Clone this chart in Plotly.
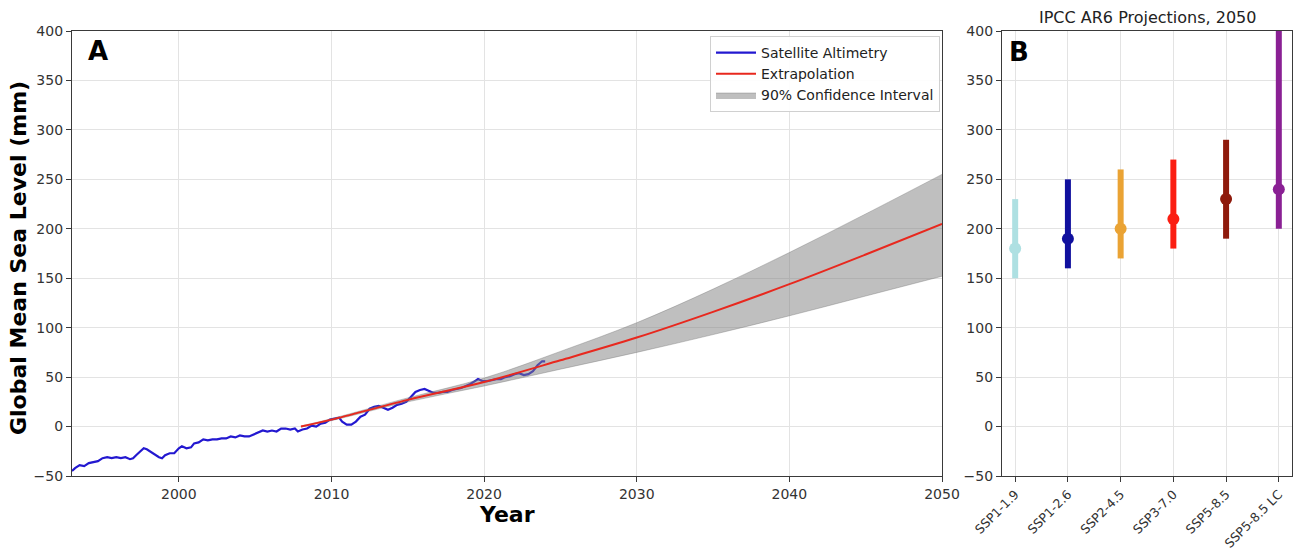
import plotly.graph_objects as go

# ---- Panel A: satellite altimetry record (mm) ----
sat_years = [
    1993.0, 1993.2, 1993.5, 1993.8, 1994.1, 1994.4, 1994.7, 1995.0, 1995.3, 1995.6,
    1995.9, 1996.2, 1996.5, 1996.8, 1997.0, 1997.2, 1997.5, 1997.7, 1997.9, 1998.1,
    1998.4, 1998.7, 1998.9, 1999.1, 1999.4, 1999.7, 2000.0, 2000.2, 2000.5, 2000.8,
    2001.0, 2001.3, 2001.6, 2001.9, 2002.2, 2002.5, 2002.8, 2003.1, 2003.4, 2003.7,
    2004.0, 2004.3, 2004.6, 2004.9, 2005.2, 2005.5, 2005.8, 2006.1, 2006.4, 2006.7,
    2007.0, 2007.3, 2007.6, 2007.8, 2008.1, 2008.4, 2008.7, 2009.0, 2009.3, 2009.6,
    2009.9, 2010.2, 2010.5, 2010.7, 2011.0, 2011.3, 2011.6, 2011.9, 2012.2, 2012.5,
    2012.8, 2013.1, 2013.4, 2013.7, 2014.0, 2014.3, 2014.6, 2014.9, 2015.2, 2015.5,
    2015.8, 2016.1, 2016.4, 2016.7, 2017.0, 2017.3, 2017.6, 2017.9, 2018.2, 2018.5,
    2018.8, 2019.1, 2019.4, 2019.6, 2019.9, 2020.2, 2020.5, 2020.8, 2021.1, 2021.4,
    2021.7, 2022.0, 2022.3, 2022.6, 2022.9, 2023.2, 2023.5, 2023.8, 2024.0,
]
sat_gmsl = [
    -45, -42, -39, -40, -37, -36, -35, -32, -31, -32,
    -31, -32, -31, -33, -32, -29, -25, -22, -23, -25,
    -28, -31, -32, -29, -27, -27, -22, -20, -22, -21,
    -17, -16, -13, -14, -13, -13, -12, -12, -10, -11,
    -9, -10, -10, -8, -6, -4, -5, -4, -5, -2,
    -2, -3, -2, -5, -3, -2, 1, 0, 3, 4,
    7, 8, 9, 5, 2, 2, 5, 10, 12, 18,
    20, 21, 19, 17, 19, 22, 23, 25, 30, 35,
    37, 38, 36, 34, 34, 35, 35, 37, 38, 39,
    41, 43, 46, 48, 46, 46, 47, 48, 48, 50,
    51, 53, 54, 52, 53, 56, 62, 66, 66,
]

# ---- Panel A: extrapolated trend and 90% confidence band (mm) ----
ext_years = [2008, 2010, 2015, 2020, 2025, 2030, 2035, 2040, 2045, 2050]
ext_mid = [0, 7, 27, 45, 67, 90, 116, 144, 174, 205]
ext_upper = [0.5, 8, 29, 49, 76, 105, 139, 176, 215, 255]
ext_lower = [-0.5, 6, 25, 41, 58, 75, 93, 112, 132, 152]

# ---- Panel B: IPCC AR6 projections for 2050 (mm) ----
scenarios = ["SSP1-1.9", "SSP1-2.6", "SSP2-4.5", "SSP3-7.0", "SSP5-8.5", "SSP5-8.5 LC"]
proj_median = [180, 190, 200, 210, 230, 240]
proj_low = [150, 160, 170, 180, 190, 200]
proj_high = [230, 250, 260, 270, 290, 500]
proj_colors = ["#aee0e2", "#10109e", "#eaa334", "#fb1e12", "#8e1a0c", "#8a2094"]

W, H = 1294, 553
FONT = "DejaVu Sans"
AX_COLOR = "#3a3a3a"
TICK_COLOR = "#333333"
GRID = "#e3e3e3"

# pixel geometry of the two panels
a_left, a_right = 72, 942
b_left, b_right = 1002, 1292
p_top, p_bottom = 31, 476

def px_x(p):
    return p / W

def px_y(p):
    return 1 - p / H

fig = go.Figure()

fig.add_trace(go.Scatter(
    x=sat_years, y=sat_gmsl, mode="lines", name="Satellite Altimetry",
    line=dict(color="#2318d0", width=2.2), legendrank=1,
    xaxis="x", yaxis="y",
))
fig.add_trace(go.Scatter(
    x=ext_years, y=ext_lower, mode="lines", showlegend=False,
    line=dict(color="rgba(110,110,110,0.6)", width=0.6, shape="spline"),
    hoverinfo="skip", xaxis="x", yaxis="y",
))
fig.add_trace(go.Scatter(
    x=ext_years, y=ext_upper, mode="lines", name="90% Confidence Interval",
    fill="tonexty", fillcolor="rgba(128,128,128,0.5)",
    line=dict(color="rgba(110,110,110,0.6)", width=0.6, shape="spline"),
    legendrank=3, xaxis="x", yaxis="y",
))
fig.add_trace(go.Scatter(
    x=ext_years, y=ext_mid, mode="lines", name="Extrapolation",
    line=dict(color="#e8281e", width=2, shape="spline"), legendrank=2,
    xaxis="x", yaxis="y",
))

for i, name in enumerate(scenarios):
    fig.add_trace(go.Scatter(
        x=[i], y=[proj_median[i]], mode="markers", showlegend=False, name=name,
        marker=dict(color=proj_colors[i], size=12),
        error_y=dict(
            type="data", symmetric=False,
            array=[proj_high[i] - proj_median[i]],
            arrayminus=[proj_median[i] - proj_low[i]],
            color=proj_colors[i], thickness=6, width=0,
        ),
        xaxis="x2", yaxis="y2",
    ))

axis_common = dict(
    showline=True, linecolor=AX_COLOR, linewidth=1.3, mirror=True,
    ticks="outside", ticklen=5, tickwidth=1.2, tickcolor=AX_COLOR,
    showgrid=True, gridcolor=GRID, gridwidth=1, zeroline=False,
    tickfont=dict(family=FONT, size=14, color=TICK_COLOR),
    automargin=False,
)

fig.update_layout(
    width=W, height=H,
    margin=dict(l=0, r=0, t=0, b=0, autoexpand=False),
    paper_bgcolor="white", plot_bgcolor="white",
    font=dict(family=FONT, color="#222"),
    xaxis=dict(
        domain=[px_x(a_left), px_x(a_right)], range=[1993, 2050],
        tickvals=[2000, 2010, 2020, 2030, 2040, 2050], anchor="y",
        **axis_common,
    ),
    yaxis=dict(
        domain=[px_y(p_bottom), px_y(p_top)], range=[-50, 400], dtick=50,
        anchor="x", **axis_common,
    ),
    xaxis2=dict(
        domain=[px_x(b_left), px_x(b_right)], range=[-0.25, 5.25],
        tickvals=list(range(len(scenarios))), ticktext=scenarios,
        tickangle=-45, anchor="y2", **axis_common,
    ),
    yaxis2=dict(
        domain=[px_y(p_bottom), px_y(p_top)], range=[-50, 400], dtick=50,
        anchor="x2", **axis_common,
    ),
    legend=dict(
        x=px_x(940), y=px_y(36), xanchor="right", yanchor="top",
        bgcolor="rgba(255,255,255,0.9)", bordercolor="#d0d0d0", borderwidth=1,
        font=dict(family=FONT, size=14, color="#222"),
        traceorder="normal", tracegroupgap=0, itemwidth=40,
    ),
    showlegend=True,
)
# rotated scenario labels are slightly smaller so they fit below panel B
fig.update_xaxes(tickfont=dict(size=12.5), selector=dict(anchor="y2"))

annotations = [
    dict(text="<b>A</b>", x=px_x(86), y=px_y(51), xanchor="left", yanchor="middle",
         font=dict(family=FONT, size=26, color="black")),
    dict(text="<b>B</b>", x=px_x(1007), y=px_y(52), xanchor="left", yanchor="middle",
         font=dict(family=FONT, size=26, color="black")),
    dict(text="IPCC AR6 Projections, 2050", x=px_x((b_left + b_right) / 2), y=px_y(17),
         xanchor="center", yanchor="middle",
         font=dict(family=FONT, size=16, color="#222")),
    dict(text="<b>Year</b>", x=px_x((a_left + a_right) / 2), y=px_y(514),
         xanchor="center", yanchor="middle",
         font=dict(family=FONT, size=22, color="black")),
    dict(text="<b>Global Mean Sea Level (mm)</b>", x=px_x(18), y=px_y(258),
         xanchor="center", yanchor="middle", textangle=-90,
         font=dict(family=FONT, size=22, color="black")),
]
for a in annotations:
    a.update(xref="paper", yref="paper", showarrow=False)
fig.update_layout(annotations=annotations)

fig.write_html("out.html")
